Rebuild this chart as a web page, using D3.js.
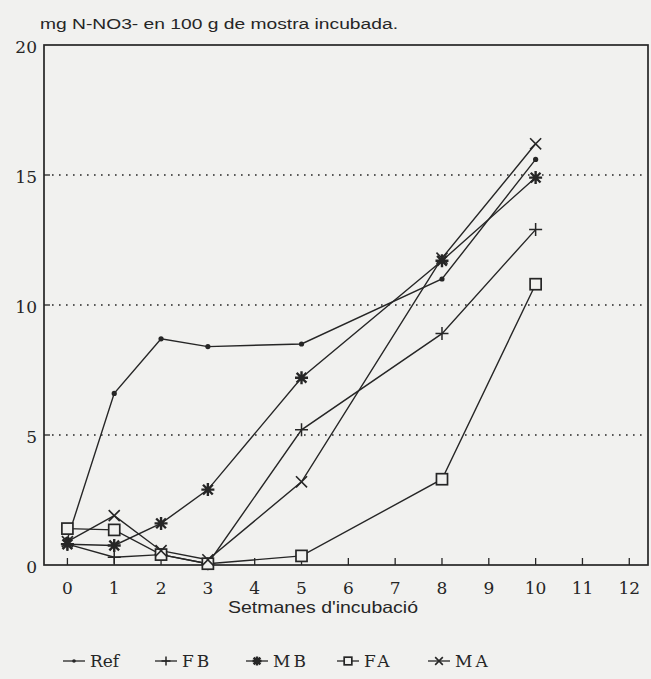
<!DOCTYPE html>
<html><head><meta charset="utf-8">
<script src="https://cdn.jsdelivr.net/npm/d3@7"></script>
<style>
html,body{margin:0;padding:0;background:#f1f1ef;}
svg{display:block;}
</style></head>
<body>
<svg id="chart" width="651" height="679"></svg>
<script>
const weeks = [0, 1, 2, 3, 5, 8, 10];
const refVals = [1.0, 6.6, 8.7, 8.4, 8.5, 11.0, 15.6];
const fbVals  = [0.8, 0.3, 0.4, 0.05, 5.2, 8.9, 12.9];
const mbVals  = [0.8, 0.75, 1.6, 2.9, 7.2, 11.7, 14.9];
const faVals  = [1.4, 1.35, 0.4, 0.05, 0.35, 3.3, 10.8];
const maVals  = [0.9, 1.9, 0.55, 0.2, 3.2, 11.8, 16.2];
const seriesNames = ["Ref", "FB", "MB", "FA", "MA"];
const seriesMarkers = ["dot", "plus", "star", "square", "cross"];
const xTicks = [0,1,2,3,4,5,6,7,8,9,10,11,12];
const yTicks = [0, 5, 10, 15, 20];
const gridVals = [5, 10, 15];
const yTitle = "mg N-NO3- en 100 g de mostra incubada.";
const xTitle = "Setmanes d'incubació";

const series = [refVals, fbVals, mbVals, faVals, maVals].map((vals, i) => ({
  name: seriesNames[i], marker: seriesMarkers[i],
  points: weeks.map((w, j) => ({x: w, y: vals[j]}))
}));

const svg = d3.select("#chart");
const ink = "#262626";
const bg = "#f1f1ef";
const x = d3.scaleLinear().domain([-0.5, 12.4]).range([44, 648]);
const y = d3.scaleLinear().domain([0, 20]).range([565, 45]);

// grid
svg.append("g").selectAll("line").data(gridVals).join("line")
  .attr("x1", x(-0.5) + 8).attr("x2", x(12.4) - 1)
  .attr("y1", d => y(d)).attr("y2", d => y(d))
  .attr("stroke", ink).attr("stroke-width", 1.4).attr("stroke-dasharray", "1.6,5.4");

// frame
svg.append("rect").attr("x", x(-0.5)).attr("y", y(20))
  .attr("width", x(12.4) - x(-0.5)).attr("height", y(0) - y(20))
  .attr("fill", "none").attr("stroke", ink).attr("stroke-width", 1.7);

// x ticks
svg.append("g").selectAll("line").data(xTicks).join("line")
  .attr("x1", d => x(d)).attr("x2", d => x(d))
  .attr("y1", y(0)).attr("y2", y(0) - 7)
  .attr("stroke", ink).attr("stroke-width", 1.3);
svg.append("g").selectAll("text").data(xTicks).join("text")
  .attr("x", d => x(d)).attr("y", 594)
  .attr("text-anchor", "middle").attr("font-family", "DejaVu Serif")
  .attr("font-size", 17).attr("fill", ink).text(d => d);

// y ticks
svg.append("g").selectAll("line").data(gridVals).join("line")
  .attr("x1", x(-0.5)).attr("x2", x(-0.5) + 6)
  .attr("y1", d => y(d)).attr("y2", d => y(d))
  .attr("stroke", ink).attr("stroke-width", 1.3);
svg.append("g").selectAll("text").data(yTicks).join("text")
  .attr("x", 37).attr("y", d => y(d) + 8)
  .attr("text-anchor", "end").attr("font-family", "DejaVu Serif")
  .attr("font-size", 17).attr("fill", ink).text(d => d);

// titles
svg.append("text").attr("x", 40).attr("y", 29)
  .attr("font-family", "Liberation Sans").attr("font-size", 14)
  .attr("textLength", 358).attr("lengthAdjust", "spacingAndGlyphs")
  .attr("fill", ink).text(yTitle);
svg.append("text").attr("x", 228).attr("y", 613)
  .attr("font-family", "Liberation Sans").attr("font-size", 16.5)
  .attr("textLength", 190).attr("lengthAdjust", "spacingAndGlyphs")
  .attr("fill", ink).text(xTitle);

// marker drawing
function drawMarker(g, type, s) {
  if (type === "dot") {
    g.append("circle").attr("r", s * 0.4).attr("fill", ink);
  } else if (type === "plus") {
    g.append("path").attr("d", `M${-s},0H${s}M0,${-s}V${s}`)
      .attr("stroke", ink).attr("stroke-width", 1.5).attr("fill", "none");
  } else if (type === "cross") {
    const k = s * 0.85;
    g.append("path").attr("d", `M${-k},${-k}L${k},${k}M${-k},${k}L${k},${-k}`)
      .attr("stroke", ink).attr("stroke-width", 1.6).attr("fill", "none");
  } else if (type === "star") {
    const k = s * 0.75;
    g.append("path").attr("d", `M${-s},0H${s}M0,${-s}V${s}M${-k},${-k}L${k},${k}M${-k},${k}L${k},${-k}`)
      .attr("stroke", ink).attr("stroke-width", 2.4).attr("fill", "none");
  } else if (type === "square") {
    const k = s * 0.85;
    g.append("rect").attr("x", -k).attr("y", -k).attr("width", 2 * k).attr("height", 2 * k)
      .attr("fill", bg).attr("stroke", ink).attr("stroke-width", 1.7);
  }
}

const line = d3.line().x(d => x(d.x)).y(d => y(d.y));
const gSeries = svg.append("g");
series.forEach(s => {
  gSeries.append("path").datum(s.points).attr("d", line)
    .attr("fill", "none").attr("stroke", ink).attr("stroke-width", 1.4);
});
series.forEach(s => {
  s.points.forEach(p => {
    const g = gSeries.append("g").attr("transform", `translate(${x(p.x)},${y(p.y)})`);
    drawMarker(g, s.marker, 6.5);
  });
});

// legend
const legendX = [63, 155, 246, 337, 428];
const legendY = 661;
series.forEach((s, i) => {
  const lx = legendX[i];
  svg.append("line").attr("x1", lx).attr("x2", lx + 22)
    .attr("y1", legendY).attr("y2", legendY)
    .attr("stroke", ink).attr("stroke-width", 1.3);
  const g = svg.append("g").attr("transform", `translate(${lx + 11},${legendY})`);
  drawMarker(g, s.marker, 4.5);
  svg.append("text").attr("x", lx + 27).attr("y", legendY + 6)
    .attr("font-family", "DejaVu Serif").attr("font-size", 17)
    .attr("letter-spacing", s.name === "Ref" ? 0 : 3)
    .attr("fill", ink).text(s.name);
});
</script>
</body></html>
